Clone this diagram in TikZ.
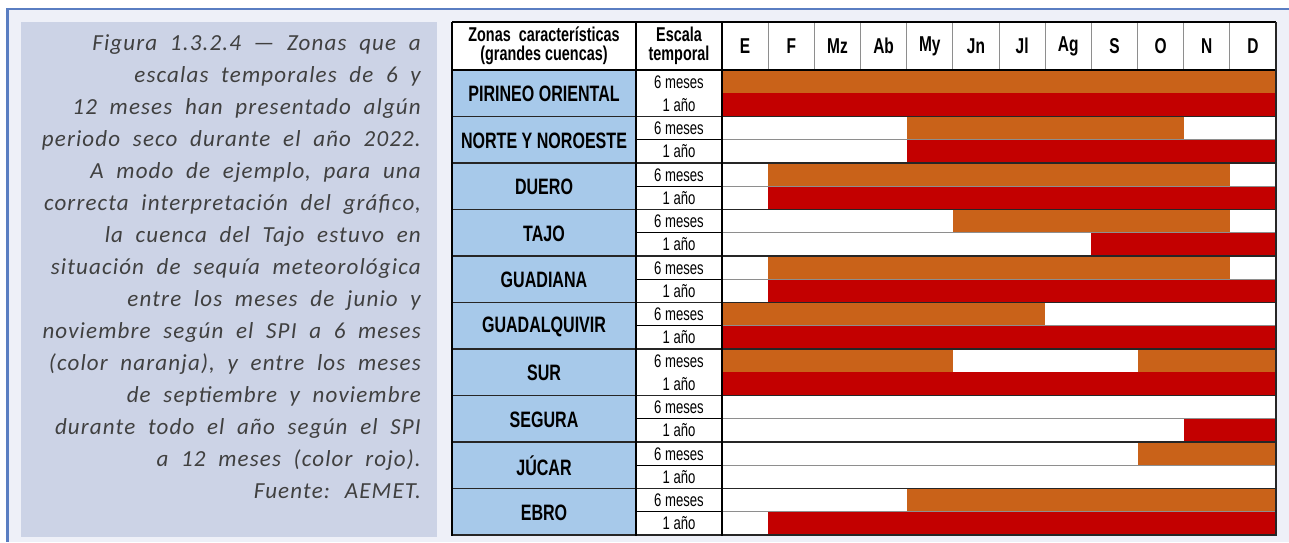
\documentclass[tikz,border=0pt]{standalone}
\usepackage{fontspec}
\newfontfamily\capfont[LetterSpace=5,WordSpace=2.0]{Carlito}
\newfontfamily\narrowB[FakeStretch=0.72]{Liberation Sans}
\definecolor{framebg}{HTML}{EEF0F8}
\definecolor{framebl}{HTML}{5A7EC2}
\definecolor{capbg}{HTML}{CCD3E6}
\definecolor{captx}{HTML}{404040}
\definecolor{zonebg}{HTML}{A7C9EA}
\definecolor{orng}{HTML}{C96219}
\definecolor{rojo}{HTML}{C30000}
\definecolor{gline}{HTML}{8E8E8E}
\newcommand\drybar[4]{\fill[#4] ({722+46.1667*(#2-1)},{70+23.25*(#1)}) rectangle ({722+46.1667*#3},{70+23.25*(#1+1)});}
\tikzset{
  capline/.style={anchor=base east, inner sep=0pt, text=captx, font=\capfont\itshape\fontsize{23}{32}\selectfont},
  headtx/.style={inner sep=0pt, align=center, font=\narrowB\bfseries\fontsize{20}{19.5}\selectfont},
  monthtx/.style={inner sep=0pt, font=\narrowB\bfseries\fontsize{21.5}{22}\selectfont},
  zonetx/.style={inner sep=0pt, font=\narrowB\bfseries\fontsize{22.3}{24}\selectfont},
  esctx/.style={inner sep=0pt, font=\narrowB\fontsize{18.2}{19}\selectfont},
}
\begin{document}
\begin{tikzpicture}[x=1pt,y=-1pt]
\useasboundingbox (0,0) rectangle (1289,542);
\fill[white] (0,0) rectangle (1289,542);
\fill[framebg] (7,9) rectangle (1289,542);
\draw[framebl, line width=2pt] (6,8.5) -- (1289,8.5);
\draw[framebl, line width=3pt] (7.5,8) -- (7.5,542);
% caption panel
\fill[capbg] (21,22) rectangle (437,537);
\foreach \t [count=\k from 0] in {%
  Figura 1.3.2.4 — Zonas que a,
  escalas temporales de 6 y,
  12 meses han presentado algún,
  periodo seco durante el año 2022.,
  A modo de ejemplo{,} para una,
  correcta interpretación del gráfico{,},
  la cuenca del Tajo estuvo en,
  situación de sequía meteorológica,
  entre los meses de junio y,
  noviembre según el SPI a 6 meses,
  (color naranja){,} y entre los meses,
  de septiembre y noviembre,
  durante todo el año según el SPI,
  a 12 meses (color rojo).,
  Fuente: AEMET.}
  \node[capline] (cap\k) at (421,{50+32*\k}) {\t};
% table backgrounds
\fill[white] (452,22) rectangle (1276,535);
\fill[zonebg] (452,70) rectangle (636,535);
% bars (subrow index 0..19)
\drybar{0}{1}{12}{orng}
\drybar{1}{1}{12}{rojo}
\drybar{2}{5}{10}{orng}
\drybar{3}{5}{12}{rojo}
\drybar{4}{2}{11}{orng}
\drybar{5}{2}{12}{rojo}
\drybar{6}{6}{11}{orng}
\drybar{7}{9}{12}{rojo}
\drybar{8}{2}{11}{orng}
\drybar{9}{2}{12}{rojo}
\drybar{10}{1}{7}{orng}
\drybar{11}{1}{12}{rojo}
\drybar{12}{1}{5}{orng}
\drybar{12}{10}{12}{orng}
\drybar{13}{1}{12}{rojo}
\drybar{15}{11}{12}{rojo}
\drybar{16}{10}{12}{orng}
\drybar{18}{5}{12}{orng}
\drybar{19}{2}{12}{rojo}
% subrow lines
\foreach \k in {1,2,3,4,5,7,8,9} {
  \draw[gline, line width=1.2pt] (722,{70+46.5*\k+23.25}) -- (1276,{70+46.5*\k+23.25});
  \draw[black, line width=0.8pt] (636,{70+46.5*\k+23.25}) -- (722,{70+46.5*\k+23.25});
}
% header month separators
\foreach \m in {1,...,11}
  \draw[gline, line width=1pt] ({722+46.1667*\m},22) -- ({722+46.1667*\m},70);
% region separators
\foreach \k in {1,...,9}
  \draw[black!85, line width=1.3pt] (452,{70+46.5*\k}) -- (1276,{70+46.5*\k});
\draw[black, line width=1.3pt] (452,22) -- (1276,22);
\draw[black, line width=1.3pt] (452,70) -- (1276,70);
\draw[black!85, line width=2.2pt] (452,535) -- (1277,535);
\draw[black, line width=1.2pt] (452,22) -- (452,536);
\draw[black, line width=1.2pt] (636,22) -- (636,536);
\draw[black, line width=1.2pt] (722,22) -- (722,536);
\draw[black!85, line width=2pt] (1276,22) -- (1276,536);
% header texts
\node[headtx] (hzona) at (544,46) {Zonas\hspace{4pt} características\\(grandes cuencas)};
\node[headtx] (hesc) at (679,46) {Escala\\temporal};
\foreach \mname [count=\m from 0] in {E,F,Mz,Ab,My,Jn,Jl,Ag,S,O,N,D}
  \node[monthtx] (hm\m) at ({722+46.1667*(\m+0.5)},46) {\mname};
% zone names and scales
\foreach \zname [count=\k from 0] in {PIRINEO ORIENTAL,NORTE Y NOROESTE,DUERO,TAJO,GUADIANA,GUADALQUIVIR,SUR,SEGURA,JÚCAR,EBRO} {
  \node[zonetx] (z\k) at (544,{70+46.5*\k+24}) {\zname};
  \node[esctx] (s\k a) at (679,{70+46.5*\k+12}) {6 meses};
  \node[esctx] (s\k b) at (679,{70+46.5*\k+35}) {1 año};
}
\end{tikzpicture}
\end{document}
